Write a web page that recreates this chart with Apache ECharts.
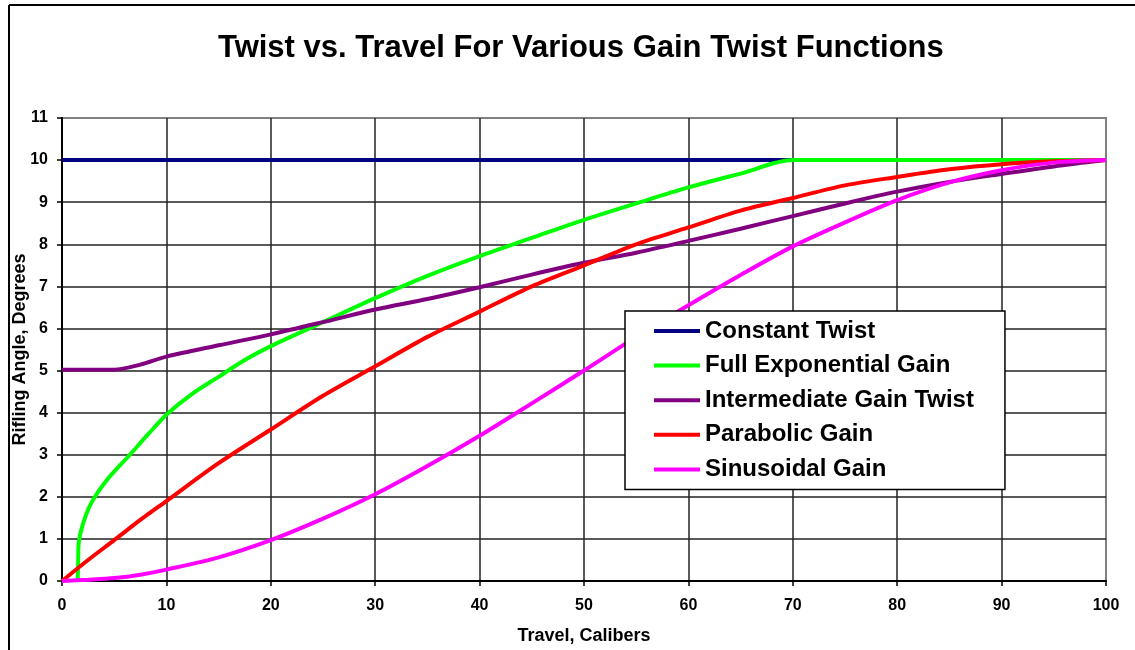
<!DOCTYPE html>
<html>
<head>
<meta charset="utf-8">
<script src="https://cdn.jsdelivr.net/npm/echarts@6/dist/echarts.min.js"></script>
<style>
  html, body { margin: 0; padding: 0; background: #fff; }
  #chart { width: 1135px; height: 650px; }
</style>
</head>
<body>
<div id="chart"></div>
<script>
// Travel positions (calibers) shared by the smooth gain curves
const travel = [0, 2.5, 5, 7.5, 10, 15, 20, 25, 30, 35, 40, 45, 50, 55, 60, 65, 70, 75, 80, 85, 90, 95, 100];

// Rifling angle (degrees) at each travel position
const constantTwist = [10, 10, 10, 10, 10, 10, 10, 10, 10, 10, 10, 10, 10, 10, 10, 10, 10, 10, 10, 10, 10, 10, 10];
const intermediateGain = [5.02, 5.02, 5.02, 5.14, 5.33, 5.6, 5.86, 6.15, 6.45, 6.7, 6.98, 7.28, 7.56, 7.8, 8.08, 8.37, 8.67, 8.97, 9.25, 9.48, 9.67, 9.85, 10];
const parabolicGain = [0, 0.5, 0.97, 1.45, 1.9, 2.8, 3.6, 4.4, 5.1, 5.8, 6.4, 7.0, 7.5, 8.0, 8.4, 8.8, 9.1, 9.4, 9.6, 9.78, 9.9, 9.97, 10];
const sinusoidalGain = [0, 0.03, 0.07, 0.15, 0.27, 0.56, 0.97, 1.48, 2.06, 2.73, 3.45, 4.22, 5.0, 5.8, 6.55, 7.27, 7.95, 8.52, 9.05, 9.47, 9.76, 9.94, 10];

// Full exponential gain starts a little way down the bore, so it has its own travel list
const expTravel = [1.5, 1.55, 1.6, 2, 2.8, 4.3, 6.5, 8.3, 10, 12.5, 15, 17.5, 20, 25, 30, 35, 40, 45, 50, 55, 60, 65, 70, 80, 90, 100];
const expGain = [0, 0.5, 0.9, 1.35, 1.85, 2.4, 3.0, 3.5, 3.95, 4.45, 4.85, 5.25, 5.58, 6.15, 6.72, 7.25, 7.72, 8.15, 8.58, 8.97, 9.35, 9.68, 10, 10, 10, 10];

const seriesNames = ['Constant Twist', 'Full Exponential Gain', 'Intermediate Gain Twist', 'Parabolic Gain', 'Sinusoidal Gain'];
const seriesColors = ['#000080', '#00ff00', '#800080', '#ff0000', '#ff00ff'];

const xTicks = { min: 0, max: 100, interval: 10 };
const yTicks = { min: 0, max: 11, interval: 1 };

const pairs = (xs, ys) => xs.map((x, i) => [x, ys[i]]);
const seriesData = [
  pairs(travel, constantTwist),
  pairs(expTravel, expGain),
  pairs(travel, intermediateGain),
  pairs(travel, parabolicGain),
  pairs(travel, sinusoidalGain)
];

const FONT = '"Liberation Sans", Arial, sans-serif';

const chart = echarts.init(document.getElementById('chart'), null, { renderer: 'canvas' });

chart.setOption({
  animation: false,
  backgroundColor: '#ffffff',
  title: {
    text: 'Twist vs. Travel For Various Gain Twist Functions',
    left: 213,
    top: 28,
    textStyle: { fontFamily: FONT, fontWeight: 'bold', fontSize: 31, color: '#000' }
  },
  graphic: [
    // frame of the chart area (left and top edges)
    { type: 'line', shape: { x1: 9, y1: 5, x2: 9, y2: 660 }, style: { stroke: '#000', lineWidth: 2 } },
    { type: 'line', shape: { x1: 9, y1: 5, x2: 1140, y2: 5 }, style: { stroke: '#000', lineWidth: 2 } }
  ],
  grid: {
    left: 62, right: 29, top: 118, bottom: 69,
    outerBoundsMode: 'none',
    containLabel: false,
    show: true, borderColor: '#808080', borderWidth: 2, backgroundColor: '#fff'
  },
  legend: {
    orient: 'vertical',
    left: 625,
    top: 311,
    padding: [6, 31, 6, 29],
    itemGap: 6.6,
    itemWidth: 46,
    itemHeight: 4,
    icon: 'rect',
    backgroundColor: '#fff',
    borderColor: '#000',
    borderWidth: 1.5,
    data: seriesNames,
    textStyle: { fontFamily: FONT, fontWeight: 'bold', fontSize: 24, lineHeight: 28, color: '#000' }
  },
  xAxis: {
    type: 'value',
    min: xTicks.min, max: xTicks.max, interval: xTicks.interval,
    name: 'Travel, Calibers',
    nameLocation: 'middle',
    nameMoveOverlap: false,
    nameGap: 46,
    nameTextStyle: { fontFamily: FONT, fontWeight: 'bold', fontSize: 18, color: '#000' },
    axisLine: { lineStyle: { color: '#000', width: 2 } },
    axisTick: { show: true, length: 5, lineStyle: { color: '#000', width: 1.5 } },
    axisLabel: { margin: 17, fontFamily: FONT, fontWeight: 'bold', fontSize: 16, color: '#000' },
    splitLine: { show: true, showMaxLine: false, lineStyle: { color: '#222', width: 1.5 } }
  },
  yAxis: {
    type: 'value',
    min: yTicks.min, max: yTicks.max, interval: yTicks.interval,
    name: 'Rifling Angle, Degrees',
    nameLocation: 'middle',
    nameMoveOverlap: false,
    nameGap: 33,
    nameRotate: 90,
    nameTextStyle: { fontFamily: FONT, fontWeight: 'bold', fontSize: 18, color: '#000' },
    axisLine: { show: true, lineStyle: { color: '#000', width: 2 } },
    axisTick: { show: true, length: 5, lineStyle: { color: '#000', width: 1.5 } },
    axisLabel: { margin: 14, fontFamily: FONT, fontWeight: 'bold', fontSize: 16, color: '#000' },
    splitLine: { show: true, showMaxLine: false, lineStyle: { color: '#222', width: 1.5 } }
  },
  series: seriesNames.map((name, i) => ({
    name,
    type: 'line',
    data: seriesData[i],
    showSymbol: false,
    symbol: 'none',
    smooth: i === 0 ? false : 0.3,
    color: seriesColors[i],
    lineStyle: { color: seriesColors[i], width: 4 },
    z: 2 + i * 0.01
  }))
});
</script>
</body>
</html>
